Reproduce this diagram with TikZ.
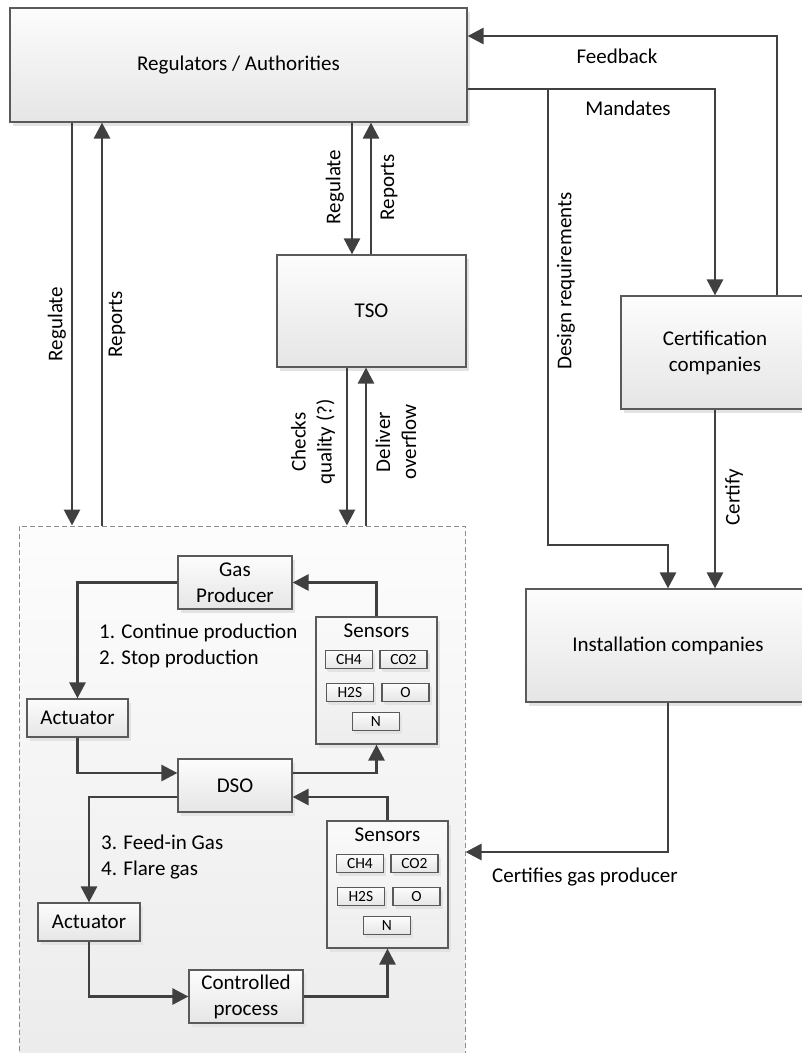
\documentclass[tikz,border=0pt]{standalone}
\usepackage{fontspec}
\setmainfont{Carlito}
\usetikzlibrary{arrows.meta, positioning, shadows}
\definecolor{linegray}{HTML}{404040}
\definecolor{edgegray}{HTML}{5A5A5A}

\begin{document}
\begin{tikzpicture}[
  x=1pt, y=-1pt,
  font=\fontsize{21}{26}\selectfont,
  box/.style={rectangle, draw=edgegray, line width=1.2pt, top color=black!1,
              bottom color=black!10, align=center, inner sep=0pt,
              drop shadow={shadow xshift=3pt, shadow yshift=-4pt, fill=black!11, opacity=1}},
  sensorbox/.style={box, top color=black!2, bottom color=black!7},
  chip/.style={box, minimum width=47pt, minimum height=18pt,
               font=\fontsize{15.5}{18}\selectfont,
               drop shadow={shadow xshift=2pt, shadow yshift=-3pt, fill=black!11, opacity=1}},
  sysbox/.style={rectangle, draw=black!45, line width=1pt, dash pattern=on 5pt off 3pt,
                 top color=black!1, bottom color=black!8, inner sep=0pt},
  arr/.style={-{Triangle[length=16pt, width=16pt]}, line width=2.8pt, draw=linegray},
  lbl/.style={inner sep=0pt, align=center}
]
  \useasboundingbox (0,0) rectangle (802,1053);
  \clip (0,0) rectangle (802,1053);

  % outer actors
  \node[box, minimum width=457pt, minimum height=114pt] (reg) at (238.5,65) {Regulators / Authorities};
  \node[box, minimum width=189pt, minimum height=112pt] (tso) at (371.5,311) {TSO};
  \node[box, minimum width=188pt, minimum height=113pt] (cert) at (715,352.5) {Certification\\companies};
  \node[box, minimum width=284pt, minimum height=113pt] (inst) at (668,645.5) {Installation companies};

  % production system
  \node[sysbox, minimum width=446pt, minimum height=564pt] (plant) at (242,808) {};
  \node[box, minimum width=114pt, minimum height=53pt] (gp) at (235,582.5) {Gas\\Producer};
  \node[box, minimum width=101pt, minimum height=38pt] (act1) at (77.5,718) {Actuator};
  \node[box, minimum width=114pt, minimum height=53pt] (dso) at (235,785.5) {DSO};
  \node[box, minimum width=102pt, minimum height=38pt] (act2) at (89,922) {Actuator};
  \node[box, minimum width=114pt, minimum height=53pt] (ctl) at (246,996.5) {Controlled\\process};
  \node[sensorbox, minimum width=121pt, minimum height=127pt] (s1) at (376.5,680.5) {};
  \node[sensorbox, minimum width=121pt, minimum height=127pt] (s2) at (387.5,884.5) {};

  \foreach \s in {s1, s2} {
    \node[lbl] (\s-title) at ([yshift=-14pt]\s.north) {Sensors};
    \foreach \gas/\dx/\dy in {CH4/33.5/43, CO2/88/43, H2S/34.5/76, O/90/76, N/60.5/105}
      \node[chip] (\s-\gas) at ([shift={(\dx,\dy)}]\s.north west) {\gas};
  }

  % regulators and TSO
  \draw[arr] (reg.south -| 72,0) -- (plant.north -| 72,0);
  \draw[arr] (plant.north -| 102,0) -- (reg.south -| 102,0);
  \draw[arr] (reg.south -| 352,0) -- (tso.north -| 352,0);
  \draw[arr] (tso.north -| 371,0) -- (reg.south -| 371,0);
  \draw[arr] (tso.south -| 347,0) -- (plant.north -| 347,0);
  \draw[arr] (plant.north -| 366,0) -- (tso.south -| 366,0);

  \node[lbl, rotate=90] (l-reg1) at (57,324) {Regulate};
  \node[lbl, rotate=90] (l-rep1) at (117,324) {Reports};
  \node[lbl, rotate=90] (l-reg2) at (335,187) {Regulate};
  \node[lbl, rotate=90] (l-rep2) at (389,187) {Reports};
  \node[lbl, rotate=90] (l-chk) at (313,442) {Checks\\quality (?)};
  \node[lbl, rotate=90] (l-dlv) at (396,442) {Deliver\\overflow};

  % certification chain
  \coordinate (fb) at (777,36);
  \coordinate (mand) at (548,89);
  \coordinate (drturn) at (668,545);
  \coordinate (cgp) at (668,852);
  \draw[arr] (cert.north -| fb) -- (fb) -- (reg.east |- fb);
  \draw[arr] (reg.east |- mand) -| (cert.north);
  \draw[arr] (mand) |- (drturn) -- (inst.north);
  \draw[arr] (cert.south) -- (inst.north -| cert.south);
  \draw[arr] (inst.south) -- (cgp) -- (plant.east |- cgp);

  \node[lbl] (l-fb) at (617,56) {Feedback};
  \node[lbl] (l-mand) at (628,108) {Mandates};
  \node[lbl, rotate=90] (l-dr) at (566,281) {Design requirements};
  \node[lbl, rotate=90] (l-cert) at (734,497) {Certify};
  \node[lbl] (l-cgp) at (585,877) {Certifies gas producer};

  % control loops
  \draw[arr] (gp.west) -| (act1.north);
  \draw[arr] (act1.south) |- ([yshift=12.5pt]dso.west);
  \draw[arr] ([yshift=12.5pt]dso.east) -| (s1.south);
  \draw[arr] (s1.north) |- (gp.east);
  \draw[arr] ([yshift=-11.5pt]dso.west) -| (act2.north);
  \draw[arr] (act2.south) |- (ctl.west);
  \draw[arr] (ctl.east) -| (s2.south);
  \draw[arr] (s2.north) |- ([yshift=-11.5pt]dso.east);

  \node[lbl, anchor=west, align=left] (l-prod) at (99,645.5) {1. Continue production\\2. Stop production};
  \node[lbl, anchor=west, align=left] (l-gas) at (101,857.5) {3. Feed-in Gas\\4. Flare gas};
\end{tikzpicture}
\end{document}
